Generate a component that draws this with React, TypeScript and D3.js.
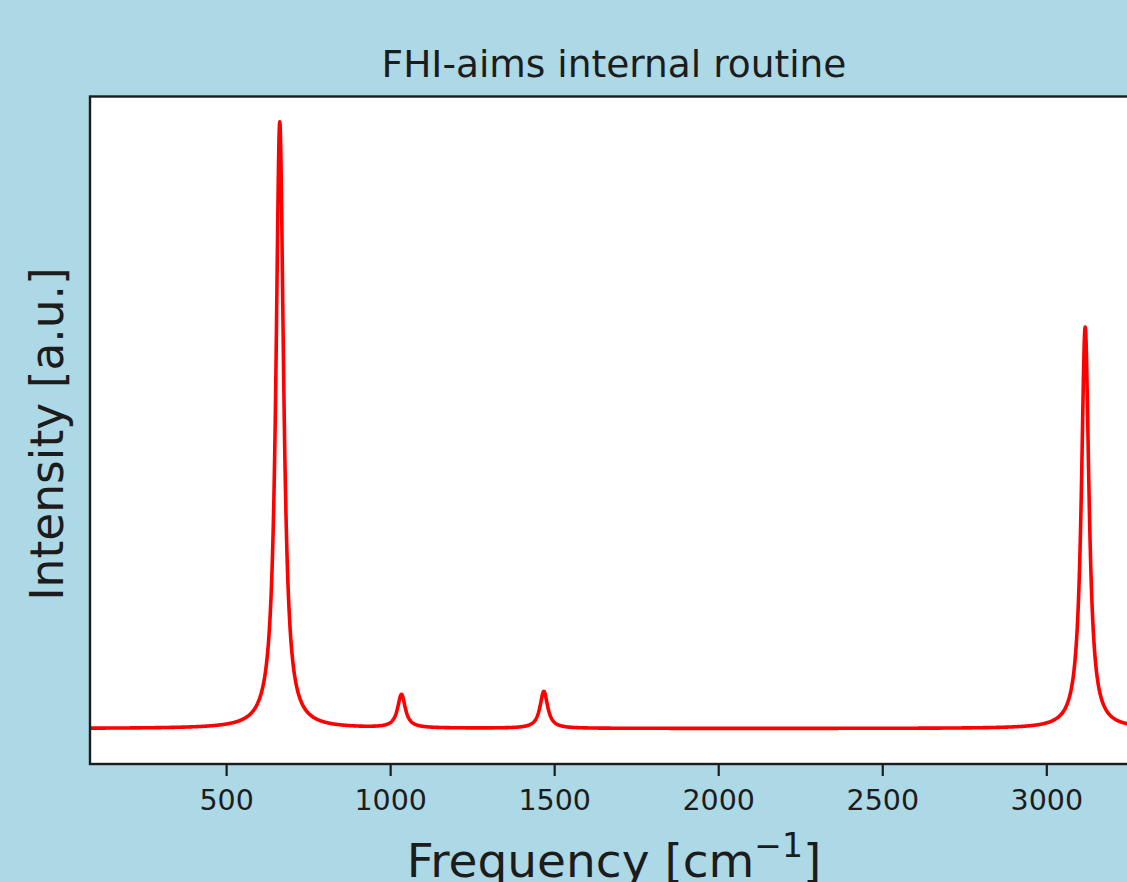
import React from "react";
import * as d3 from "d3";

// peak list (cm^-1, relative intensity)
const peakFrequencies = [662, 1033, 1467, 3117];
const peakIntensities = [1.0, 0.055, 0.061, 0.662];
const broadening = 14; // half width of the lorentzians, cm^-1

const xTicks = [500, 1000, 1500, 2000, 2500, 3000];
const xDomain = [83.6, 3278];
const yDomain = [-0.0585, 1.042];

const title = "FHI-aims internal routine";

// sum of lorentzians on a 1 cm^-1 grid, like the FHI-aims plot
const spectrum = d3.range(0, 3400, 1).map((f) => {
  let s = 0;
  peakFrequencies.forEach((p, i) => {
    const d = (f - p) / broadening;
    s += peakIntensities[i] / (1 + d * d);
  });
  return [f, s] as [number, number];
});

export default function App() {
  const width = 1127;
  const height = 882;
  const left = 90;
  const right = 1138;
  const top = 96.5;
  const bottom = 764;

  const x = d3.scaleLinear().domain(xDomain).range([left, right]);
  const y = d3.scaleLinear().domain(yDomain).range([bottom, top]);

  const line = d3
    .line<[number, number]>()
    .x((d) => x(d[0]))
    .y((d) => y(d[1]));

  const font = "'DejaVu Sans', sans-serif";
  const ink = "#1c1c1c";

  return (
    <svg
      width={width}
      height={height}
      style={{ position: "absolute", left: 0, top: 0 }}
      fontFamily={font}
    >
      <defs>
        <clipPath id="plot">
          <rect x={left} y={top} width={right - left} height={bottom - top} />
        </clipPath>
      </defs>
      <rect width={width} height={height} fill="#add8e6" />
      <rect x={left} y={top} width={right - left} height={bottom - top} fill="#fff" />

      <path
        d={line(spectrum) || ""}
        fill="none"
        stroke="#ff0000"
        strokeWidth={3.6}
        strokeLinejoin="round"
        clipPath="url(#plot)"
      />

      {/* spines */}
      <rect
        x={left}
        y={top}
        width={right - left}
        height={bottom - top}
        fill="none"
        stroke={ink}
        strokeWidth={2.4}
      />

      {xTicks.map((t) => (
        <g key={t} transform={`translate(${x(t)},${bottom})`}>
          <line y2={12} stroke={ink} strokeWidth={2.2} />
          <text y={46} textAnchor="middle" fontSize={28.5} fill={ink}>
            {t}
          </text>
        </g>
      ))}

      <text x={614} y={77} textAnchor="middle" fontSize={37.5} fill={ink}>
        {title}
      </text>

      <text x={614} y={877} textAnchor="middle" fontSize={47} fill={ink}>
        Frequency [cm
        <tspan fontSize={33} dy={-20}>
          −1
        </tspan>
        <tspan dy={20}>]</tspan>
      </text>

      <text
        transform="translate(63,434) rotate(-90)"
        textAnchor="middle"
        fontSize={45.5}
        fill={ink}
      >
        Intensity [a.u.]
      </text>
    </svg>
  );
}
